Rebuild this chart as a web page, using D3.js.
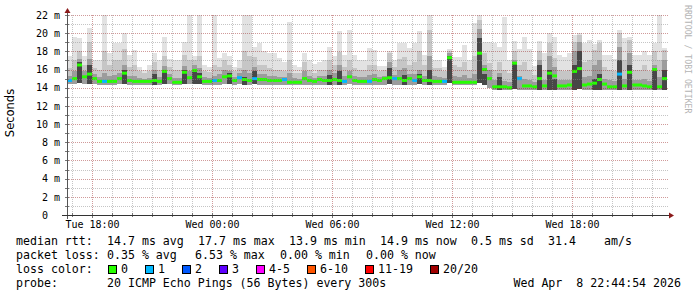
<!DOCTYPE html>
<html>
<head>
<meta charset="utf-8">
<script src="https://cdn.jsdelivr.net/npm/d3@7"></script>
<style>
  html, body { margin: 0; padding: 0; background: #fff; }
  svg { display: block; }
  text { font-family: "DejaVu Sans Mono", monospace; }
</style>
</head>
<body>
<div id="chart"></div>
<script>
// smokeping style latency chart, 30 hours, one sample per 15 min

// DATA ___________________________________________________________
// median rtt per sample (ms)
const medianRtt = [
  14.8, 15.0, 16.5, 15.2, 15.5, 15.0, 14.7, 14.7, 14.7, 14.7,
  15.0, 15.6, 14.8, 14.7, 14.7, 14.7, 14.7, 14.8, 14.7, 15.8,
  15.0, 14.6, 14.6, 15.7, 15.1, 15.9, 15.2, 14.7, 14.7, 14.8,
  14.8, 15.2, 15.3, 14.8, 15.1, 14.9, 14.8, 15.0, 14.9, 14.9,
  14.8, 14.8, 14.8, 14.9, 14.6, 14.6, 14.6, 15.0, 14.8, 14.7,
  14.9, 14.8, 14.8, 14.9, 14.8, 14.7, 15.2, 14.8, 14.7, 14.7,
  14.7, 14.9, 14.8, 15.0, 15.1, 15.0, 15.0, 14.8, 15.0, 14.8,
  15.2, 14.8, 14.8, 14.7, 14.7, 14.7, 17.3, 14.6, 14.6, 14.6,
  14.6, 14.6, 17.8, 16.0, 15.0, 14.1, 14.1, 14.1, 14.0, 16.7,
  15.0, 14.2, 14.2, 14.1, 15.0, 14.2, 15.6, 15.3, 14.2, 14.2,
  14.3, 15.8, 16.1, 14.3, 14.4, 14.5, 14.9, 14.4, 14.1, 14.1,
  15.5, 14.2, 15.7, 14.3, 14.3, 14.2, 14.1, 16.0, 14.1, 15.0
];
// lost pings per sample (of 20)
const lossCount = [
  1, 0, 0, 0, 0, 0, 0, 1, 0, 0,
  0, 0, 0, 0, 0, 0, 0, 0, 0, 0,
  0, 0, 0, 0, 0, 0, 0, 0, 0, 1,
  0, 0, 0, 0, 1, 0, 0, 1, 0, 0,
  0, 0, 0, 1, 0, 0, 0, 0, 0, 0,
  0, 0, 0, 0, 0, 1, 0, 0, 0, 0,
  1, 0, 0, 0, 0, 1, 0, 0, 0, 1,
  0, 0, 0, 0, 0, 1, 0, 0, 0, 0,
  0, 0, 0, 0, 0, 0, 0, 0, 0, 0,
  1, 0, 0, 0, 0, 0, 0, 0, 0, 0,
  0, 0, 0, 0, 0, 0, 0, 0, 0, 0,
  1, 0, 0, 0, 0, 0, 0, 0, 0, 0
];
// smoke: fastest ping
const minRtt = [
  14.4, 14.4, 14.5, 14.4, 14.4, 14.4, 14.35, 14.35, 14.35, 14.35,
  14.4, 14.4, 14.35, 14.35, 14.35, 14.35, 14.35, 14.35, 14.35, 14.4,
  14.4, 14.3, 14.3, 14.4, 14.4, 14.4, 14.4, 14.35, 14.35, 14.35,
  14.35, 14.4, 14.4, 14.35, 14.4, 14.35, 14.35, 14.4, 14.35, 14.35,
  14.35, 14.35, 14.35, 14.35, 14.3, 14.3, 14.3, 14.35, 14.35, 14.35,
  14.35, 14.35, 14.35, 14.35, 14.35, 14.35, 14.4, 14.35, 14.35, 14.35,
  14.35, 14.35, 14.35, 14.35, 14.4, 14.35, 14.35, 14.35, 14.35, 14.35,
  14.4, 14.35, 14.35, 14.35, 14.35, 14.35, 14.5, 14.3, 14.3, 14.3,
  14.3, 14.3, 14.5, 14.3, 14.0, 13.75, 13.75, 13.75, 13.7, 13.9,
  13.8, 13.75, 13.75, 13.75, 13.8, 13.75, 13.8, 13.8, 13.75, 13.75,
  13.75, 13.8, 13.9, 13.75, 13.75, 13.75, 13.8, 13.75, 13.75, 13.75,
  13.8, 13.75, 13.8, 13.75, 13.75, 13.75, 13.75, 13.8, 13.75, 13.8
];
// smoke: top of the dense core
const p60Rtt = [
  14.4, 14.4, 16.8, 14.4, 16.5, 14.4, 14.35, 14.35, 14.35, 14.35,
  14.4, 16.0, 14.35, 14.35, 14.35, 14.35, 14.35, 15.5, 14.35, 16.0,
  14.4, 14.3, 14.3, 15.9, 14.4, 16.1, 15.6, 14.35, 14.35, 14.35,
  14.35, 14.4, 15.6, 14.35, 14.4, 15.2, 14.35, 15.8, 14.35, 14.35,
  14.35, 14.35, 14.35, 14.35, 14.3, 14.3, 14.3, 14.35, 14.35, 14.35,
  14.35, 14.35, 15.4, 14.35, 15.8, 14.35, 14.4, 14.35, 14.35, 14.35,
  14.35, 14.35, 14.35, 14.35, 16.2, 14.35, 14.35, 15.4, 14.35, 14.35,
  15.5, 14.35, 16.0, 14.35, 14.35, 14.35, 17.5, 14.3, 14.3, 14.3,
  14.3, 14.3, 19.5, 15.5, 14.0, 13.75, 15.2, 13.75, 13.7, 16.8,
  13.8, 13.75, 13.75, 13.75, 16.5, 13.75, 16.0, 15.0, 13.75, 13.75,
  13.75, 16.5, 18.0, 13.75, 13.75, 15.0, 15.5, 13.75, 13.75, 13.75,
  17.0, 13.75, 16.5, 13.75, 13.75, 13.75, 13.75, 16.0, 13.75, 16.0
];
// smoke: 75th percentile
const p75Rtt = [
  15.3, 15.8, 17.2, 15.8, 17.2, 15.5, 15.2, 15.6, 15.3, 15.4,
  15.6, 16.5, 15.3, 15.3, 15.1, 15.0, 15.1, 16.0, 15.2, 16.4,
  15.5, 15.1, 15.1, 16.4, 15.8, 16.5, 16.2, 15.2, 15.1, 15.3,
  15.5, 16.0, 15.8, 15.2, 15.6, 16.0, 15.6, 16.3, 15.5, 15.5,
  15.3, 15.3, 15.2, 15.2, 15.6, 15.1, 15.0, 15.8, 15.3, 15.1,
  15.3, 15.3, 16.0, 15.6, 16.5, 15.3, 15.8, 15.3, 15.2, 15.2,
  15.4, 15.5, 15.2, 15.3, 16.8, 15.4, 16.0, 16.2, 15.5, 15.5,
  16.0, 15.3, 17.5, 15.3, 15.2, 15.1, 17.8, 15.3, 15.2, 15.4,
  15.1, 15.5, 20.5, 16.5, 16.0, 14.8, 15.6, 14.7, 14.6, 17.0,
  15.3, 15.0, 14.8, 14.6, 17.0, 14.8, 17.5, 16.3, 14.8, 14.8,
  14.9, 18.0, 19.0, 15.2, 15.3, 16.5, 17.0, 15.0, 14.8, 14.7,
  18.5, 15.0, 17.8, 14.9, 14.9, 15.0, 14.7, 16.5, 15.2, 17.0
];
// smoke: 90th percentile
const p90Rtt = [
  16.2, 17.0, 18.0, 16.5, 19.0, 16.2, 16.0, 18.0, 16.5, 17.0,
  17.0, 18.3, 16.3, 16.5, 15.8, 15.6, 15.8, 16.8, 16.0, 17.5,
  16.3, 16.0, 16.0, 17.6, 17.0, 17.0, 17.5, 15.8, 15.7, 16.5,
  16.3, 17.0, 16.5, 15.8, 16.2, 18.0, 17.5, 17.4, 16.5, 16.5,
  16.2, 16.0, 16.0, 15.8, 17.0, 15.6, 15.6, 16.8, 16.0, 15.6,
  16.0, 16.0, 17.0, 16.5, 17.9, 16.3, 17.0, 16.2, 16.0, 16.0,
  16.5, 16.5, 15.8, 15.9, 17.8, 16.3, 17.2, 17.4, 16.5, 16.8,
  18.0, 16.5, 20.3, 16.2, 16.2, 15.8, 18.0, 16.5, 16.3, 16.8,
  16.0, 17.5, 21.5, 17.8, 16.7, 16.0, 16.8, 16.0, 15.6, 18.0,
  16.5, 16.8, 16.0, 15.4, 18.0, 16.0, 18.9, 17.3, 16.0, 15.8,
  16.0, 19.0, 19.8, 16.8, 17.0, 18.2, 18.9, 16.3, 16.0, 15.8,
  20.0, 17.0, 19.2, 16.0, 16.0, 16.5, 15.8, 18.0, 17.0, 18.2
];
// smoke: slowest ping
const maxRtt = [
  17.5, 19.6, 19.5, 17.5, 20.6, 17.0, 17.0, 22.0, 17.8, 18.9,
  18.9, 20.0, 17.6, 18.2, 16.3, 16.0, 16.5, 17.8, 17.0, 19.6,
  17.2, 17.0, 17.0, 19.0, 22.0, 17.5, 22.0, 16.5, 16.3, 22.0,
  17.3, 17.8, 17.5, 16.3, 17.0, 22.0, 22.0, 18.5, 18.9, 18.0,
  17.8, 17.8, 17.3, 16.8, 21.2, 16.5, 16.3, 17.8, 17.0, 16.6,
  16.8, 17.0, 18.5, 17.5, 20.2, 17.6, 20.4, 17.6, 17.0, 17.0,
  18.4, 18.2, 16.4, 16.4, 18.0, 17.0, 18.9, 18.9, 18.4, 18.9,
  20.2, 17.6, 22.0, 17.0, 17.0, 16.3, 18.3, 17.4, 17.4, 18.7,
  17.0, 21.1, 22.0, 19.0, 19.0, 18.9, 18.5, 21.8, 17.0, 19.1,
  18.3, 19.6, 18.3, 16.4, 19.1, 17.8, 20.0, 19.6, 17.6, 17.4,
  17.8, 19.8, 20.0, 18.9, 19.3, 18.8, 19.3, 17.6, 17.6, 17.2,
  20.4, 19.5, 19.6, 17.6, 17.6, 18.0, 17.6, 18.9, 22.0, 18.4
];

// y ticks (ms)
const yMinorTicks = d3.range(1, 23);
const yLabelTicks = [0, 2, 4, 6, 8, 10, 12, 14, 16, 18, 20, 22];

// loss legend
const lossLabels = ['0', '1', '2', '3', '4-5', '6-10', '11-19', '20/20'];
const lossColors = ['#26ff00', '#00b8ff', '#0059ff', '#5e00ff', '#ff00ff', '#ff5500', '#ff0000', '#a10000'];

// legend rows: [text, x]
const rttLegend = [
  ['median rtt:', 16], ['14.7 ms avg', 107], ['17.7 ms max', 198], ['13.9 ms min', 289],
  ['14.9 ms now', 380], ['0.5 ms sd', 471], ['31.4', 548], ['am/s', 604]
];
const lossLegend = [
  ['packet loss:', 16], ['0.35 % avg', 107], ['6.53 % max', 195], ['0.00 % min', 280], ['0.00 % now', 366]
];
const probeText = '20 ICMP Echo Pings (56 Bytes) every 300s';
const stampText = 'Wed Apr  8 22:44:54 2026';

// time range
const START = new Date(2026, 3, 7, 16, 44, 54);
const END = new Date(2026, 3, 8, 22, 44, 54);
const SAMPLE_START = new Date(2026, 3, 7, 16, 45, 0);
const STEP_MIN = 15;
//________________________________________________________________________________________


// LAYOUT ___________________________________________________________
const W = 697, H = 297;
const PLOT = {left: 67, right: 667, top: 15, bottom: 215};
//________________________________________________________________________________________


const svg = d3.select('#chart').append('svg')
  .attr('width', W).attr('height', H);

svg.append('rect').attr('width', W).attr('height', H).attr('fill', '#fff');

const x = d3.scaleTime().domain([START, END]).range([PLOT.left, PLOT.right]);
const y = d3.scaleLinear().domain([0, 22]).range([PLOT.bottom, PLOT.top]);

const sampleTimes = medianRtt.map((_, i) => d3.timeMinute.offset(SAMPLE_START, i * STEP_MIN));
const samples = medianRtt.map((m, i) => ({
  t0: sampleTimes[i],
  t1: d3.timeMinute.offset(sampleTimes[i], STEP_MIN),
  med: m, loss: lossCount[i],
  lo: minRtt[i], p60: p60Rtt[i], p75: p75Rtt[i], p90: p90Rtt[i], hi: maxRtt[i]
}));

// clip to plot
svg.append('clipPath').attr('id', 'plotclip')
  .append('rect').attr('x', PLOT.left + 1).attr('y', PLOT.top - 5)
  .attr('width', PLOT.right - PLOT.left + 1).attr('height', PLOT.bottom - PLOT.top + 5);

const plot = svg.append('g').attr('clip-path', 'url(#plotclip)');

// smoke layers, light to dark
const smokeLayers = [
  {key: 'hi', color: '#e2e2e2'},
  {key: 'p90', color: '#c6c6c6'},
  {key: 'p75', color: '#9c9c9c'},
  {key: 'p60', color: '#474747'}
];
smokeLayers.forEach(function(layer) {
  plot.append('g').selectAll('rect')
    .data(samples)
    .enter().append('rect')
    .attr('x', d => x(d.t0))
    .attr('width', d => x(d.t1) - x(d.t0))
    .attr('y', d => y(d[layer.key]))
    .attr('height', d => Math.max(0, y(d.lo) - y(d[layer.key])))
    .attr('fill', layer.color)
    .attr('shape-rendering', 'crispEdges');
});

// grid -----------------------------------------------------------
const grid = svg.append('g').attr('shape-rendering', 'crispEdges');
const hours = d3.timeHour.range(START, END);

grid.selectAll('.vgrid')
  .data(hours)
  .enter().append('line')
  .attr('x1', d => Math.round(x(d)) + 0.5).attr('x2', d => Math.round(x(d)) + 0.5)
  .attr('y1', PLOT.top).attr('y2', PLOT.bottom)
  .attr('stroke', d => d.getHours() % 6 === 0 ? 'rgba(150,30,30,0.45)' : 'rgba(140,140,140,0.5)')
  .attr('stroke-dasharray', '1,1');

grid.selectAll('.hgrid')
  .data(yMinorTicks)
  .enter().append('line')
  .attr('x1', PLOT.left).attr('x2', PLOT.right + 1)
  .attr('y1', d => Math.round(y(d)) + 0.5).attr('y2', d => Math.round(y(d)) + 0.5)
  .attr('stroke', d => d % 2 === 0 ? 'rgba(150,30,30,0.45)' : 'rgba(140,140,140,0.5)')
  .attr('stroke-dasharray', '1,1');

// median line coloured by loss
plot.append('g').selectAll('line')
  .data(samples)
  .enter().append('line')
  .attr('x1', d => x(d.t0)).attr('x2', d => x(d.t1))
  .attr('y1', d => y(d.med)).attr('y2', d => y(d.med))
  .attr('stroke', d => lossColors[d.loss])
  .attr('stroke-width', 3);

// axes -----------------------------------------------------------
const yAxis = svg.append('g')
  .attr('transform', `translate(${PLOT.left},0)`)
  .call(d3.axisLeft(y).tickValues(yLabelTicks).tickSize(0).tickPadding(7)
    .tickFormat(d => d === 0 ? '0  ' : d + ' m'));
yAxis.select('.domain').remove();
yAxis.selectAll('text')
  .attr('xml:space', 'preserve')
  .attr('fill', '#000')
  .style('font-family', '"DejaVu Sans Mono", monospace')
  .style('font-size', '10px');

const majorTimes = hours.filter(d => d.getHours() % 6 === 0);
const xAxis = svg.append('g')
  .attr('transform', `translate(0,${PLOT.bottom})`)
  .call(d3.axisBottom(x).tickValues(majorTimes).tickSize(0).tickPadding(6)
    .tickFormat(d3.timeFormat('%a %H:%M')));
xAxis.select('.domain').remove();
xAxis.selectAll('text')
  .attr('fill', '#000')
  .style('font-family', '"DejaVu Sans Mono", monospace')
  .style('font-size', '10px');

// small tick marks on the axes
svg.append('g').selectAll('line')
  .data(hours)
  .enter().append('line')
  .attr('x1', d => Math.round(x(d)) + 0.5).attr('x2', d => Math.round(x(d)) + 0.5)
  .attr('y1', PLOT.bottom - 2).attr('y2', d => PLOT.bottom + (d.getHours() % 6 === 0 ? 3 : 2))
  .attr('stroke', '#777').attr('shape-rendering', 'crispEdges');
svg.append('g').selectAll('line')
  .data(yMinorTicks)
  .enter().append('line')
  .attr('x1', PLOT.left - 2).attr('x2', PLOT.left + 2)
  .attr('y1', d => Math.round(y(d)) + 0.5).attr('y2', d => Math.round(y(d)) + 0.5)
  .attr('stroke', '#777').attr('shape-rendering', 'crispEdges');

// axis lines + arrows
svg.append('line')
  .attr('x1', PLOT.left + 0.5).attr('x2', PLOT.left + 0.5)
  .attr('y1', PLOT.bottom + 4).attr('y2', 12)
  .attr('stroke', '#555').attr('stroke-width', 1);
svg.append('line')
  .attr('x1', PLOT.left - 5).attr('x2', PLOT.right + 4)
  .attr('y1', PLOT.bottom + 0.5).attr('y2', PLOT.bottom + 0.5)
  .attr('stroke', '#333').attr('stroke-width', 1);
svg.append('path')
  .attr('d', `M${PLOT.left - 2.5},13 L${PLOT.left + 0.5},8 L${PLOT.left + 3.5},13 Z`)
  .attr('fill', '#8b1a1a');
svg.append('path')
  .attr('d', `M${PLOT.right + 2},${PLOT.bottom - 2.5} L${PLOT.right + 7},${PLOT.bottom + 0.5} L${PLOT.right + 2},${PLOT.bottom + 3.5} Z`)
  .attr('fill', '#8b1a1a');

// axis title
svg.append('text')
  .attr('transform', 'translate(14,113) rotate(-90)')
  .attr('text-anchor', 'middle')
  .style('font-family', '"DejaVu Sans", sans-serif')
  .style('font-size', '11.5px')
  .attr('fill', '#000')
  .text('Seconds');

// watermark
svg.append('text')
  .attr('transform', 'translate(685,5) rotate(90)')
  .style('font-size', '8.2px')
  .attr('fill', '#b4b4b4')
  .text('RRDTOOL / TOBI OETIKER');

// legend -----------------------------------------------------------
const LEG_FONT = '11.6px';
const legend = svg.append('g').attr('fill', '#000').style('font-size', LEG_FONT);

function legendRow(items, baseline) {
  legend.append('g').selectAll('text')
    .data(items)
    .enter().append('text')
    .attr('x', d => d[1]).attr('y', baseline)
    .text(d => d[0]);
}
legendRow(rttLegend, 245);
legendRow(lossLegend, 259);
legendRow([['loss color:', 16]], 273);
legendRow([['probe:', 16], [probeText, 107]], 287);

legend.append('text')
  .attr('x', 681).attr('y', 287)
  .attr('text-anchor', 'end')
  .attr('xml:space', 'preserve')
  .text(stampText);

// loss colour swatches
let boxX = 108;
const swatches = lossLabels.map(function(label, i) {
  const s = {label: label, color: lossColors[i], x: boxX};
  boxX += 30 + 7 * label.length;
  return s;
});
const sw = legend.append('g').selectAll('g')
  .data(swatches)
  .enter().append('g');
sw.append('rect')
  .attr('x', d => d.x + 0.5).attr('y', 265.5)
  .attr('width', 8).attr('height', 8)
  .attr('fill', d => d.color)
  .attr('stroke', '#000').attr('stroke-width', 1)
  .attr('shape-rendering', 'crispEdges');
sw.append('text')
  .attr('x', d => d.x + 13).attr('y', 273)
  .text(d => d.label);
</script>
</body>
</html>
